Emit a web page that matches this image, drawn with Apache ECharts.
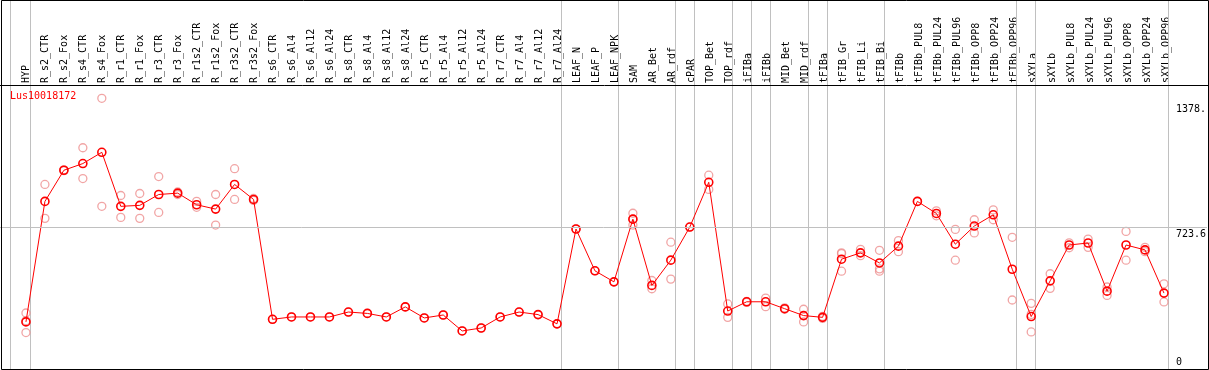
<!DOCTYPE html>
<html>
<head>
<meta charset="utf-8">
<script src="https://cdn.jsdelivr.net/npm/echarts@6/dist/echarts.min.js"></script>
<style>html,body{margin:0;padding:0;background:#fff;}#c{width:1209px;height:370px;}</style>
</head>
<body>
<div id="c"></div>
<script>
var title = 'Lus10018172';
var categories = ['HYP','R_s2_CTR','R_s2_Fox','R_s4_CTR','R_s4_Fox','R_r1_CTR','R_r1_Fox','R_r3_CTR','R_r3_Fox','R_r1s2_CTR','R_r1s2_Fox','R_r3s2_CTR','R_r3s2_Fox','R_s6_CTR','R_s6_Al4','R_s6_Al12','R_s6_Al24','R_s8_CTR','R_s8_Al4','R_s8_Al12','R_s8_Al24','R_r5_CTR','R_r5_Al4','R_r5_Al12','R_r5_Al24','R_r7_CTR','R_r7_Al4','R_r7_Al12','R_r7_Al24','LEAF_N','LEAF_P','LEAF_NPK','SAM','AR_Bet','AR_rdf','cPAR','TOP_Bet','TOP_rdf','iFIBa','iFIBb','MID_Bet','MID_rdf','tFIBa','tFIB_Gr','tFIB_Li','tFIB_Bi','tFIBb','tFIBb_PUL8','tFIBb_PUL24','tFIBb_PUL96','tFIBb_OPP8','tFIBb_OPP24','tFIBb_OPP96','sXYLa','sXYLb','sXYLb_PUL8','sXYLb_PUL24','sXYLb_PUL96','sXYLb_OPP8','sXYLb_OPP24','sXYLb_OPP96'];
var means = [244,855,1013,1047,1104,830,835,890,897,838,816,941,865,257,269,269,269,294,287,269,320,264,279,198,213,269,294,281,234,715,503,447,765,429,557,725,952,299,346,346,311,276,267,562,594,543,628,855,794,638,730,787,511,271,452,634,644,400,634,609,390];
var replicates = [[289,250,190],[941,769],[1015,1011],[1127,971],[1378,830],[885,774],[895,769],[981,799],[903,890],[855,825],[890,735],[1021,865],[870,860],
[257],[269],[269],[269],[294],[287],[269],[320],[264],[279],[198],[213],[269],[294],[281],[234],
[715],[503],[447],[795,765,735],[454,412],[648,461],[725],[988,916],[335,267],[348,343],[365,321],[315,308],[308,244],[272,262],[594,590,501],[612,580],[607,513,501],[656,600],
[855],[807,782],[713,557],[762,695],[812,762],[673,355],[338,282,193],[488,414],[645,620],[664,622],[421,378],[703,557],[622,600],[437,345]];
var yTickValues = [0, 723.6, 1378];
var yTickLabels = ['0', '723.6', '1378.'];
var yAxisMax = 1447.2;
// group separators: drawn after these category indices (-1 = before the first one)
var groupEnds = [-1, 0, 28, 31, 34, 35, 37, 38, 39, 41, 42, 45, 52, 53, 60];

var W = 1209, H = 370;
var plotTop = 85, zeroY = 371.6, step = 19, firstX = 26;
var pxPerUnit = (zeroY - plotTop) / yAxisMax;
var fullMax = zeroY / pxPerUnit;
var xMin = -firstX / step, xMax = (W - firstX) / step;

var meanData = means.map(function (v, i) { return [i, v]; });
var repData = [];
replicates.forEach(function (arr, i) { arr.forEach(function (v) { repData.push([i, v]); }); });
var sepData = groupEnds.map(function (g) { return {value: [g < 0 ? -0.8 : g + 0.24, 0]}; });

var mono = 'DejaVu Sans Mono';
var chart = echarts.init(document.getElementById('c'), null, {renderer: 'canvas'});
chart.setOption({
  animation: false,
  backgroundColor: '#fff',
  title: {text: title, left: 10, top: 91, padding: 0, textStyle: {color: '#ff0000', fontSize: 10, fontWeight: 'normal', fontFamily: mono}},
  grid: [
    {left: 0, right: 0, top: 0, bottom: 0},
    {left: firstX - step / 2, right: W - (firstX - step / 2 + step * categories.length), top: plotTop, bottom: 0}
  ],
  xAxis: [
    {type: 'value', gridIndex: 0, min: xMin, max: xMax, show: false},
    {type: 'category', gridIndex: 1, position: 'top', data: categories,
      axisLine: {show: false}, axisTick: {show: false}, splitLine: {show: false},
      axisLabel: {interval: 0, rotate: 90, margin: 2, color: '#000', fontSize: 10, fontFamily: mono}}
  ],
  yAxis: [
    {type: 'value', gridIndex: 0, min: 0, max: fullMax, position: 'right',
      axisLine: {show: false}, axisTick: {show: false}, splitLine: {show: false},
      axisLabel: {inside: true, margin: 31, align: 'left', verticalAlign: 'middle', color: '#000', fontSize: 10, fontFamily: mono,
        customValues: yTickValues,
        formatter: function (v) {
          var best = 0;
          for (var k = 0; k < yTickValues.length; k++) { if (Math.abs(yTickValues[k] - v) < Math.abs(yTickValues[best] - v)) best = k; }
          return '{s' + best + '|' + yTickLabels[best] + '}';
        },
        rich: {
          s0: {fontSize: 10, fontFamily: mono, color: '#000', padding: [0, 0, 15, 0]},
          s1: {fontSize: 10, fontFamily: mono, color: '#000', padding: [15, 0, 0, 0]},
          s2: {fontSize: 10, fontFamily: mono, color: '#000', padding: [22, 0, 0, 0]}
        }}},
    {type: 'value', gridIndex: 1, min: 0, max: yAxisMax, show: false}
  ],
  series: [
    {type: 'custom', xAxisIndex: 0, yAxisIndex: 0, data: sepData, silent: true, clip: false, z: 1,
      encode: {x: 0, y: 1},
      renderItem: function (params, api) {
        var p0 = api.coord([api.value(0), 0]);
        var p1 = api.coord([api.value(0), fullMax]);
        var x = Math.floor(p0[0]) + 0.5;
        return {type: 'line', shape: {x1: x, y1: p1[1], x2: x, y2: p0[1]}, style: {stroke: '#c0c0c0', lineWidth: 1}};
      }},
    {type: 'line', xAxisIndex: 0, yAxisIndex: 0, data: [], silent: true,
      markLine: {silent: true, symbol: 'none', animation: false, label: {show: false},
        lineStyle: {color: '#c0c0c0', width: 1, type: 'solid'},
        data: [[{coord: [xMin, yTickValues[1]]}, {coord: [xMax, yTickValues[1]]}]]}},
    {type: 'scatter', xAxisIndex: 0, yAxisIndex: 0, data: repData, symbol: 'circle', symbolSize: 8, silent: true,
      itemStyle: {color: 'rgba(0,0,0,0)', borderColor: '#ee8e8e', borderWidth: 1.3}, z: 3},
    {type: 'line', xAxisIndex: 0, yAxisIndex: 0, data: meanData, symbol: 'circle', symbolSize: 8, showSymbol: true, silent: true,
      lineStyle: {color: '#ff0000', width: 1}, itemStyle: {color: 'rgba(0,0,0,0)', borderColor: '#ff0000', borderWidth: 1.6}, z: 4}
  ],
  graphic: [
    {type: 'line', shape: {x1: 0, y1: plotTop + 0.5, x2: W, y2: plotTop + 0.5}, style: {stroke: '#000', lineWidth: 1}, z: 100, silent: true},
    {type: 'rect', shape: {x: 1.5, y: 0.5, width: 1207, height: 369}, style: {fill: 'none', stroke: '#000', lineWidth: 1}, z: 100, silent: true}
  ]
});
</script>
</body>
</html>
